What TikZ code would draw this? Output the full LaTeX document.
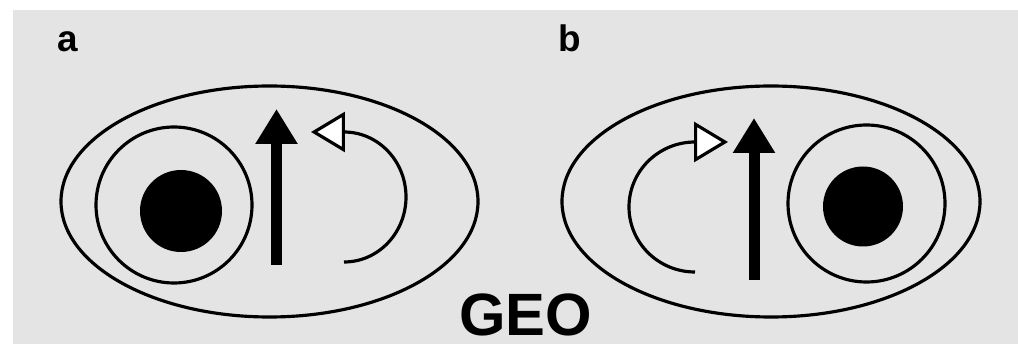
\documentclass[tikz,border=0pt]{standalone}
\usepackage{fontspec}
\setmainfont{Liberation Sans}
\usepackage{tikz}
\usetikzlibrary{arrows.meta,positioning}
\definecolor{panelgrey}{HTML}{E4E4E4}

\begin{document}
\begin{tikzpicture}[
		x=0.02cm, y=-0.02cm,
		outline/.style={draw=black, line width=1.8pt},
		core/.style={fill=black},
		field/.style={line width=0.22cm, -{Triangle[length=0.7cm, width=0.8cm]}},
		spin/.style={outline, -{Triangle[length=0.68cm, width=0.8cm, fill=white]}},
		panel/.style={font=\bfseries\fontsize{21}{21}\selectfont, inner sep=0pt, anchor=base west},
		title/.style={font=\bfseries\fontsize{34}{34}\selectfont, inner sep=0pt, text depth=0pt, anchor=south}
		]
		
		\useasboundingbox (0,0) rectangle (1018,344);
		\fill[panelgrey] (13,10) rectangle (1018,344);
		
		% panel a
		\node[panel] (labA) at (57,52) {a};
		\coordinate (eggA) at (269.5,201.5);
		\coordinate (ringA) at (174,205);
		\coordinate (coreA) at (181,211);
		\coordinate (tailA) at (276.5,265);
		\coordinate (headA) at (276.5,109);
		\coordinate (spinA) at (344,262);
		
		\draw[outline] (eggA) ellipse[x radius=208.5, y radius=115.5];
		\draw[outline] (ringA) circle[radius=78];
		\fill[core] (coreA) circle[radius=41];
		\draw[field] (tailA) -- (headA);
		\draw[spin] (spinA) arc[start angle=90, end angle=-90, x radius=62, y radius=65] -- ++(-33,0);
		
		% panel b
		\node[panel] (labB) at (558,52) {b};
		\coordinate (eggB) at (771,201.5);
		\coordinate (ringB) at (866.5,203.5);
		\coordinate (coreB) at (863,206.5);
		\coordinate (tailB) at (754,280);
		\coordinate (headB) at (754,118);
		\coordinate (spinB) at (695,272);
		
		\draw[outline] (eggB) ellipse[x radius=209, y radius=115.5];
		\draw[outline] (ringB) circle[radius=78.5];
		\fill[core] (coreB) circle[radius=40];
		\draw[field] (tailB) -- (headB);
		\draw[spin] (spinB) arc[start angle=90, end angle=270, x radius=66, y radius=65] -- ++(33,0);
		
		\node[title] (geo) at (525.5,336) {GEO};
		
	\end{tikzpicture}
\end{document}
